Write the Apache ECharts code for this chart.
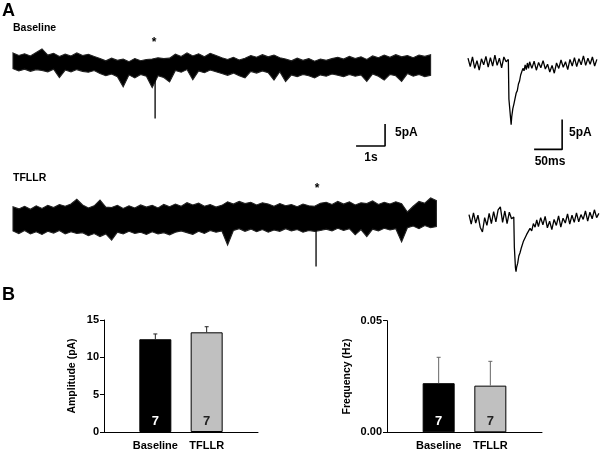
<!DOCTYPE html>
<html>
<head>
<meta charset="utf-8">
<script src="https://cdn.jsdelivr.net/npm/echarts@6/dist/echarts.min.js"></script>
<style>
    html, body { margin: 0; padding: 0; background: #fff; }
    #main { width: 600px; height: 454px; }
</style>
</head>
<body>
<div id="main"></div>
<script>
// panel A sweeps: upper / lower edge of the noise band (pA), one value every 0.2 s
let sweepStep = 0.2;
let baselineUpper = [2.3, 1.7, 2.1, 1.6, 2.4, 3.2, 1.8, 2.2, 1.5, 2.0, 1.6, 2.3, 1.7, 2.0, 1.5,
    1.0, 0.5, 1.1, 0.6, 0.9, 0.3, 1.0, 0.5, 0.8,
    0.9, 1.2, 1.0, 1.1,
    2.0, 1.5, 2.3, 1.6, 2.1, 1.4, 2.2, 1.7,
    1.2, 0.8, 1.3, 0.7, 1.1,
    1.7, 1.3, 1.9, 1.4, 1.8, 1.2,
    0.9, 0.5, 1.1, 0.6, 1.0, 0.4, 0.9, 0.6, 1.0,
    1.3, 0.9, 1.5, 1.0, 1.4, 0.8,
    1.6, 1.2, 1.8, 1.3, 1.9, 1.4, 1.7, 1.2, 1.8, 1.5, 1.9];
let baselineLower = [-1.3, -1.8, -1.4, -1.9, -1.5, -1.7, -2.0, -1.4, -3.3, -1.6, -2.0, -1.5, -1.9, -2.1, -1.7,
    -2.4, -2.9, -2.5, -3.1, -5.4, -2.7, -3.4, -2.6, -3.0,
    -5.6, -2.9, -3.3, -4.3,
    -1.7, -2.1, -1.5, -3.8, -1.8, -2.2, -1.6, -2.0,
    -2.4, -2.8, -2.3, -2.9, -3.4,
    -1.9, -2.3, -1.8, -2.2, -3.9, -2.0,
    -4.2, -2.7, -3.1, -2.6, -2.9, -3.4, -2.7, -3.0, -2.5,
    -2.8, -3.1, -2.6, -3.0, -2.7, -4.2,
    -2.5, -3.0, -3.9, -2.6, -2.9, -4.2, -2.4, -3.0, -2.6, -3.1, -2.8];
let tfllrUpper = [2.8, 2.3, 2.9, 2.2, 3.0, 2.4, 3.1, 2.6, 3.3, 2.9,
    3.4, 4.5, 3.2,
    2.5, 3.0, 4.3, 2.7,
    2.6, 3.1, 2.4, 3.0, 2.5, 3.2, 2.7, 3.1, 2.5, 3.3, 2.8, 3.4, 2.9,
    3.7, 3.2, 3.6, 2.9, 3.3, 2.7, 3.1,
    3.9, 3.4, 4.0, 3.5, 3.8, 3.2, 3.7,
    3.4, 2.9, 3.5, 3.0, 3.3, 2.8, 3.4, 3.0,
    2.9, 3.6,
    3.8, 3.3, 4.0, 3.4, 3.9, 3.2, 3.7, 3.5, 4.1, 3.3, 3.8, 3.4, 3.9, 3.5,
    1.6, 2.9,
    4.0, 3.6, 4.8, 4.2];
let tfllrLower = [-2.7, -3.3, -2.6, -3.4, -2.9, -3.5, -2.8, -3.2, -2.6, -3.4, -2.9, -3.3,
    -3.1, -3.8, -3.3, -4.0, -3.4, -4.8,
    -3.0, -3.4, -2.8, -3.3, -3.0, -3.5, -2.9, -3.4, -3.1, -3.6, -3.0,
    -2.7, -3.1, -3.5, -2.8, -3.3, -2.6, -3.0, -2.7,
    -5.9,
    -2.6, -2.2, -2.8, -2.3, -2.9, -2.4, -3.0, -2.5, -2.8, -2.2, -2.7, -2.4, -3.0, -2.6,
    -2.8, -2.6,
    -2.3, -2.7, -2.1, -2.6, -2.2, -3.6, -2.4, -4.0, -2.3, -2.7, -2.1, -2.5, -2.2, -5.2,
    -2.0, -1.6, -2.2, -1.5, -2.0, -1.7];
// marked events: [time s, start pA, peak pA]
let baselineEvent = [4.9, -1.0, -12.6];
let tfllrEvent = [10.45, -2.0, -10.8];

// expanded events (time ms, current pA)
let baselineEventT = [0, 4, 8, 12, 16, 20, 24, 28, 32, 36, 40, 44, 48, 52, 56, 60, 64, 68,
    72, 73, 76, 77, 78, 80, 82, 84, 86, 88, 90, 92, 94, 96, 98, 100, 102, 104, 106, 108, 110,
    114, 118, 122, 126, 130, 134, 138, 142, 146, 150, 154, 158, 162, 166, 170, 174, 178, 182,
    186, 190, 194, 198, 202, 206, 210, 214, 218, 222, 226, 230];
let baselineEventI = [0.8, -0.6, 1.0, -0.9, 0.4, -1.2, 0.7, -0.3, 1.1, -0.7, 0.9, -0.5, 1.3, -0.4, 0.8, -0.8, 1.0, 0.2,
    0.6, -6.0, -9.2, -10.3, -9.0, -7.6, -6.8, -5.9, -5.0, -4.6, -3.5, -3.0, -2.0, -1.9, -0.9, -1.3, -0.3, -1.1, 0.0, -0.9, 0.2,
    -0.9, 0.3, -1.2, 0.1, -0.8, 0.4, -1.0, -0.2, -1.5, -0.4, -1.7, 0.0, -0.9, 0.5, -0.7, 0.2, -1.1, 0.6,
    -0.5, 0.9, -0.6, 0.7, -0.3, 1.2, -0.4, 0.8, -0.2, 1.0, -0.5, 0.6];
let tfllrEventT = [0, 4, 8, 12, 16, 20, 24, 28, 32, 36, 40, 44, 48, 52, 56, 60, 64, 68, 72, 76,
    80, 81, 83, 84, 85, 87, 89, 91, 93, 95, 97, 100, 103, 106, 109, 112, 115, 118, 121,
    124, 128, 132, 136, 140, 144, 148, 152, 156, 160, 164, 168, 172, 176, 180, 184, 188, 192,
    196, 200, 204, 208, 212, 216, 220, 224, 228, 232];
let tfllrEventI = [0.9, -0.7, 1.2, -0.5, 0.8, -1.2, -2.0, 0.4, -0.9, 1.1, -0.6, 1.4, -0.3, 1.7, 2.2, -0.4, 1.5, -0.6, 1.3, 0.2,
    0.5, -4.5, -8.0, -8.6, -7.9, -7.2, -6.0, -5.5, -4.8, -4.5, -3.6, -3.3, -2.4, -2.3, -1.4, -1.8, -0.6, -1.2, 0.0,
    -1.1, 0.4, -0.8, 0.6, -1.3, -0.2, -1.6, 0.1, -0.9, 0.7, -1.2, 0.3, -0.5, 1.0,
    -0.7, 0.8, -0.4, 1.2, -0.3, 0.9, 0.1, 1.5, -0.2, 1.3, 0.2, 1.7, 0.4, 1.1];

// panel B
let groups = ['Baseline', 'TFLLR'];
let amplitude = [12.42, 13.35];
let amplitudeSem = [0.71, 0.75];
let frequency = [0.0220, 0.0209];
let frequencySem = [0.0116, 0.0109];
let cellCount = [7, 7];

let font = '"Liberation Sans", Arial, sans-serif';
let chart = echarts.init(document.getElementById('main'), null, { renderer: 'canvas' });

function hiddenAxis(idx, min, max) {
    return { type: 'value', gridIndex: idx, min: min, max: max, show: false };
}

// noise band: polygon along the upper edge and back along the lower edge
function sweepSeries(idx, upper, lower, event) {
    return [
        {
            type: 'custom', xAxisIndex: idx, yAxisIndex: idx, clip: false,
            data: [[0, 0]],
            renderItem: function (params, api) {
                let pts = upper.map((v, i) => api.coord([i * sweepStep, v]));
                for (let i = lower.length - 1; i >= 0; i--) {
                    pts.push(api.coord([i * sweepStep, lower[i]]));
                }
                return {
                    type: 'polygon', shape: { points: pts },
                    style: { fill: '#000', stroke: '#222', lineWidth: 1.1 }
                };
            }
        },
        { type: 'line', xAxisIndex: idx, yAxisIndex: idx, symbol: 'none',
            lineStyle: { color: '#000', width: 1.3 },
            data: [[event[0], event[1]], [event[0], event[2]]] }
    ];
}

function eventSeries(idx, t, cur) {
    return {
        type: 'line', xAxisIndex: idx, yAxisIndex: idx, symbol: 'none',
        lineStyle: { color: '#000', width: 1.3 },
        data: t.map((v, i) => [v, cur[i]])
    };
}

// scale bar drawn on the sweep's own axes
function scaleBar(idx, t0, i0, dt, di) {
    return {
        type: 'line', xAxisIndex: idx, yAxisIndex: idx, symbol: 'none',
        lineStyle: { color: '#000', width: 1.6 },
        data: [[t0, i0], [t0 + dt, i0], [t0 + dt, i0 + di]]
    };
}

function barAxes(idx, max, interval, name, gap, fmt) {
    return {
        x: {
            type: 'value', gridIndex: idx, min: 0, max: 3, interval: 1,
            axisLine: { show: true, onZero: false, lineStyle: { color: '#000', width: 1 } },
            axisTick: { show: false },
            splitLine: { show: false },
            axisLabel: {
                formatter: v => groups[v - 1] || '',
                color: '#000', fontWeight: 'bold', fontSize: 11, fontFamily: font, margin: 8
            }
        },
        y: {
            type: 'value', gridIndex: idx, min: 0, max: max, interval: interval,
            axisLine: { show: true, lineStyle: { color: '#000', width: 1 } },
            axisTick: { show: true, length: 4, lineStyle: { color: '#000' } },
            splitLine: { show: false },
            axisLabel: { formatter: fmt, color: '#000', fontWeight: 'bold', fontSize: 11, fontFamily: font, margin: 5 },
            name: name, nameLocation: 'middle', nameRotate: 90, nameGap: gap,
            nameTextStyle: { color: '#000', fontWeight: 'bold', fontSize: 10.5, fontFamily: font }
        }
    };
}

function barSeries(idx, values) {
    let fills = ['#000', '#c0c0c0'];
    let inks = ['#fff', '#222'];
    return {
        type: 'bar', xAxisIndex: idx, yAxisIndex: idx, barWidth: 32,
        data: values.map((v, i) => ({
            value: [i + 1, v],
            itemStyle: { color: fills[i], borderColor: '#000', borderWidth: 1 },
            label: { color: inks[i] }
        })),
        label: {
            show: true, position: 'insideBottom', distance: 4,
            formatter: p => cellCount[p.dataIndex],
            fontWeight: 'bold', fontSize: 13, fontFamily: font
        }
    };
}

function errorSeries(idx, values, sems, color) {
    return {
        type: 'custom', xAxisIndex: idx, yAxisIndex: idx, z: 3, clip: false,
        data: values.map((v, i) => [i + 1, v, sems[i]]),
        renderItem: function (params, api) {
            let base = api.coord([api.value(0), api.value(1)]);
            let top = api.coord([api.value(0), api.value(1) + api.value(2)]);
            let style = { stroke: color, lineWidth: 1 };
            return {
                type: 'group',
                children: [
                    { type: 'line', shape: { x1: base[0], y1: base[1], x2: top[0], y2: top[1] }, style: style },
                    { type: 'line', shape: { x1: top[0] - 2, y1: top[1], x2: top[0] + 2, y2: top[1] }, style: style }
                ]
            };
        }
    };
}

function label(text, x, y, size, align, vAlign) {
    return {
        type: 'text', x: x, y: y,
        style: { text: text, font: 'bold ' + size + 'px ' + font, fill: '#000', align: align || 'left', verticalAlign: vAlign || 'middle' }
    };
}

let amp = barAxes(4, 15, 5, 'Amplitude (pA)', 26, v => v);
let freq = barAxes(5, 0.05, 0.05, 'Frequency (Hz)', 34, v => v.toFixed(2));

let option = {
    animation: false,
    textStyle: { fontFamily: font },
    grid: [
        { left: 13, top: 41, width: 417.6, height: 110, outerBoundsMode: 'none' },
        { left: 13, top: 183.8, width: 423.4, height: 88, outerBoundsMode: 'none' },
        { left: 468, top: 45, width: 130, height: 108, outerBoundsMode: 'none' },
        { left: 469, top: 202, width: 131, height: 78, outerBoundsMode: 'none' },
        { left: 104, top: 320, width: 154, height: 112, outerBoundsMode: 'none' },
        { left: 387, top: 320.7, width: 155, height: 111.6, outerBoundsMode: 'none' }
    ],
    xAxis: [
        hiddenAxis(0, 0, 14.4),
        hiddenAxis(1, 0, 14.6),
        hiddenAxis(2, 0, 232),
        hiddenAxis(3, 0, 234),
        amp.x,
        freq.x
    ],
    yAxis: [
        hiddenAxis(0, -20, 5),
        hiddenAxis(1, -12, 8),
        hiddenAxis(2, -15, 3),
        hiddenAxis(3, -10, 3),
        amp.y,
        freq.y
    ],
    series: [].concat(
        sweepSeries(0, baselineUpper, baselineLower, baselineEvent),
        sweepSeries(1, tfllrUpper, tfllrLower, tfllrEvent),
        [
            eventSeries(2, baselineEventT, baselineEventI),
            eventSeries(3, tfllrEventT, tfllrEventI),
            scaleBar(0, 11.83, -18.86, 1, 5),      // 1 s, 5 pA
            scaleBar(2, 118, -14.4, 50, 5),        // 50 ms, 5 pA
            barSeries(4, amplitude),
            errorSeries(4, amplitude, amplitudeSem, '#222'),
            barSeries(5, frequency),
            errorSeries(5, frequency, frequencySem, '#666')
        ]
    ),
    graphic: [
        label('A', 2, 11, 18),
        label('B', 2, 295, 18),
        label('Baseline', 13, 28, 10.5),
        label('TFLLR', 13, 178, 10.5),
        label('*', 154, 37, 12, 'center', 'top'),
        label('*', 317, 183, 12, 'center', 'top'),
        label('5pA', 395, 133, 12),
        label('1s', 371, 158, 12, 'center'),
        label('5pA', 569, 133, 12),
        label('50ms', 550, 162, 12, 'center')
    ]
};
chart.setOption(option);
</script>
</body>
</html>
